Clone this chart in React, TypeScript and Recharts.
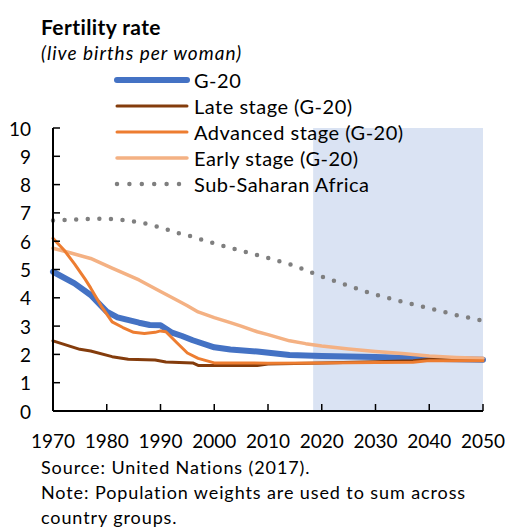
import React from "react";
import { LineChart, Line, XAxis, YAxis, ReferenceArea } from "recharts";

const g20Years = [1970, 1974, 1977, 1980, 1982, 1986, 1988, 1990, 1992, 1994, 1996, 2000, 2003, 2008, 2014, 2020, 2030, 2040, 2050];
const g20Values = [4.92, 4.51, 4.1, 3.51, 3.31, 3.12, 3.04, 3.03, 2.78, 2.65, 2.5, 2.25, 2.17, 2.1, 1.98, 1.94, 1.91, 1.85, 1.81];

const lateYears = [1970, 1975, 1977, 1981, 1984, 1989, 1991, 1996, 1997, 2008, 2010, 2020, 2030, 2037, 2040, 2050];
const lateValues = [2.48, 2.18, 2.12, 1.92, 1.83, 1.8, 1.73, 1.7, 1.61, 1.61, 1.66, 1.7, 1.74, 1.78, 1.83, 1.82];

const advancedYears = [1970, 1972, 1974, 1976, 1977, 1979, 1981, 1983, 1985, 1987, 1989, 1990, 1991, 1993, 1995, 1997, 2000, 2010, 2020, 2030, 2037, 2040, 2050];
const advancedValues = [6.1, 5.7, 5.2, 4.65, 4.35, 3.7, 3.15, 2.95, 2.78, 2.74, 2.78, 2.83, 2.8, 2.42, 2.05, 1.86, 1.7, 1.69, 1.7, 1.71, 1.72, 1.78, 1.78];

const earlyYears = [1970, 1973, 1977, 1981, 1986, 1990, 1993, 1995, 1997, 2000, 2003, 2005, 2008, 2010, 2014, 2017, 2020, 2025, 2030, 2035, 2040, 2045, 2050];
const earlyValues = [5.75, 5.6, 5.39, 5.05, 4.63, 4.22, 3.92, 3.72, 3.5, 3.3, 3.12, 3.0, 2.8, 2.7, 2.48, 2.38, 2.3, 2.19, 2.1, 2.03, 1.94, 1.89, 1.86];

const ssaYears = [1970, 1975, 1978, 1981, 1984, 1987, 1990, 1993, 1995, 2000, 2005, 2010, 2015, 2020, 2025, 2030, 2035, 2040, 2045, 2050];
const ssaValues = [6.73, 6.77, 6.8, 6.78, 6.73, 6.63, 6.49, 6.3, 6.21, 5.92, 5.66, 5.41, 5.13, 4.75, 4.42, 4.11, 3.86, 3.63, 3.39, 3.19];

const xTicks = [1970, 1980, 1990, 2000, 2010, 2020, 2030, 2040, 2050];
const yTicks = [0, 1, 2, 3, 4, 5, 6, 7, 8, 9, 10];
const projectionStart = 2018.4;
const projectionEnd = 2050;

const seriesDefs = [
  { key: "ssa", name: "Sub-Saharan Africa", years: ssaYears, values: ssaValues, color: "#7F7F7F", width: 4.5, dotted: true },
  { key: "g20", name: "G-20", years: g20Years, values: g20Values, color: "#4472C4", width: 6, dotted: false },
  { key: "late", name: "Late stage (G-20)", years: lateYears, values: lateValues, color: "#843C0C", width: 3, dotted: false },
  { key: "early", name: "Early stage (G-20)", years: earlyYears, values: earlyValues, color: "#F4B183", width: 3.5, dotted: false },
  { key: "advanced", name: "Advanced stage (G-20)", years: advancedYears, values: advancedValues, color: "#ED7D31", width: 3, dotted: false },
];

const legendOrder = ["g20", "late", "advanced", "early", "ssa"];

function buildData() {
  const map = new Map<number, any>();
  seriesDefs.forEach((s) => {
    s.years.forEach((yr, i) => {
      if (!map.has(yr)) map.set(yr, { year: yr });
      map.get(yr)[s.key] = s.values[i];
    });
  });
  return Array.from(map.values()).sort((a, b) => a.year - b.year);
}
const data = buildData();

const FONT = "Lato, 'Open Sans', sans-serif";

const YTick = (props: any) => {
  const { x, y, payload } = props;
  return (
    <g>
      <line x1={x} x2={x + 7} y1={y} y2={y} stroke="#000" strokeWidth={1.5} />
      <text x={x - 22} y={y} textAnchor="end" dominantBaseline="central" fontFamily={FONT} fontSize={19} fill="#000">
        {payload.value}
      </text>
    </g>
  );
};

const XTick = (props: any) => {
  const { x, y, payload } = props;
  return (
    <g>
      {payload.value !== 1970 && <line x1={x} x2={x} y1={y} y2={y - 7} stroke="#000" strokeWidth={1.5} />}
      <text x={x} y={y + 29} textAnchor="middle" dominantBaseline="central" fontFamily={FONT} fontSize={19} fill="#000">
        {payload.value}
      </text>
    </g>
  );
};

const LegendBlock = () => {
  const items = legendOrder.map((k) => seriesDefs.find((s) => s.key === k)!);
  return (
    <div style={{ position: "absolute", left: 114, top: 67, fontFamily: FONT, fontSize: 20, letterSpacing: 0.5, color: "#000" }}>
      {items.map((s) => (
        <div key={s.key} style={{ display: "flex", alignItems: "center", height: 26 }}>
          <svg width={80} height={10} style={{ display: "block" }}>
            <line
              x1={3}
              x2={73}
              y1={5}
              y2={5}
              stroke={s.color}
              strokeWidth={s.width}
              strokeLinecap="round"
              strokeDasharray={s.dotted ? "0 12.4" : undefined}
            />
          </svg>
          <span style={{ lineHeight: "26px", whiteSpace: "nowrap" }}>{s.name}</span>
        </div>
      ))}
    </div>
  );
};

export default function App() {
  return (
    <div style={{ position: "absolute", left: 0, top: 0, width: 505, height: 529, background: "#fff", fontFamily: FONT }}>
      <div style={{ position: "absolute", left: 41, top: 14, fontSize: 21, fontWeight: 700, letterSpacing: 0.4, lineHeight: "26px" }}>Fertility rate</div>
      <div style={{ position: "absolute", left: 41, top: 40, fontSize: 19, fontStyle: "italic", letterSpacing: 1.0, lineHeight: "26px" }}>(live births per woman)</div>
      <LineChart width={505} height={529} data={data} margin={{ top: 128, right: 22, bottom: 0, left: 0 }} style={{ position: "absolute", left: 0, top: 0 }}>
        <ReferenceArea x1={projectionStart} x2={projectionEnd} y1={0} y2={10} fill="#DAE3F3" fillOpacity={1} stroke="none" />
        <XAxis
          dataKey="year"
          type="number"
          domain={[1970, 2050]}
          ticks={xTicks}
          interval={0}
          tickSize={0}
          tickMargin={0}
          tickLine={false}
          axisLine={{ stroke: "#000", strokeWidth: 2 }}
          tick={<XTick />}
          height={118}
        />
        <YAxis
          domain={[0, 10]}
          ticks={yTicks}
          interval={0}
          width={53}
          tickSize={0}
          tickMargin={0}
          tickLine={false}
          axisLine={{ stroke: "#000", strokeWidth: 2 }}
          tick={<YTick />}
        />
        {seriesDefs.map((s) => (
          <Line
            key={s.key}
            dataKey={s.key}
            name={s.name}
            type="linear"
            stroke={s.color}
            strokeWidth={s.width}
            strokeDasharray={s.dotted ? "0 11.6" : undefined}
            strokeLinecap="round"
            strokeLinejoin="round"
            dot={false}
            activeDot={false}
            connectNulls
            isAnimationActive={false}
          />
        ))}
      </LineChart>
      <LegendBlock />
      <div style={{ position: "absolute", left: 41, top: 455, fontSize: 18, letterSpacing: 0.9, lineHeight: "25px", whiteSpace: "nowrap" }}>
        Source: United Nations (2017).
        <br />
        Note: Population weights are used to sum across
        <br />
        country groups.
      </div>
    </div>
  );
}
